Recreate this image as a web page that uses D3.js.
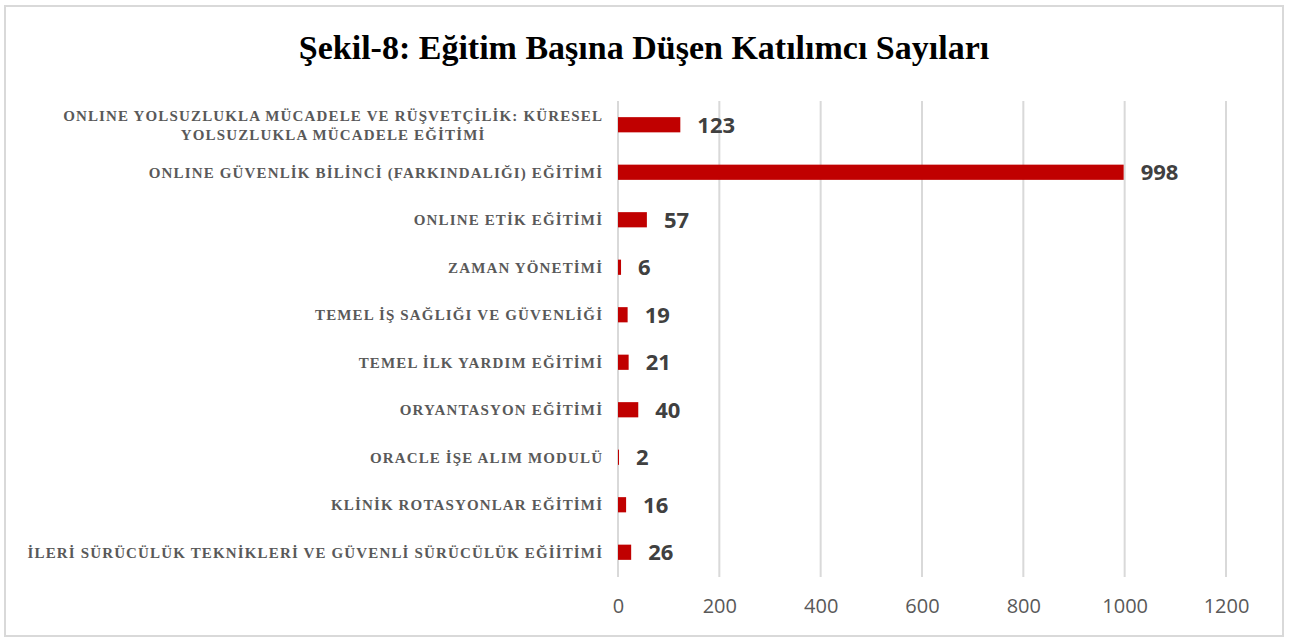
<!DOCTYPE html>
<html>
<head>
<meta charset="utf-8">
<script src="https://cdn.jsdelivr.net/npm/d3@7"></script>
<style>
  body { margin: 0; background: #fff; }
  svg { display: block; }
</style>
</head>
<body>
<svg id="svg" width="1290" height="642"></svg>
<script>
// DATA //
const categories = [
  "ONLINE YOLSUZLUKLA MÜCADELE VE RÜŞVETÇİLİK: KÜRESEL|YOLSUZLUKLA MÜCADELE EĞİTİMİ",
  "ONLINE GÜVENLİK BİLİNCİ (FARKINDALIĞI) EĞİTİMİ",
  "ONLINE ETİK EĞİTİMİ",
  "ZAMAN YÖNETİMİ",
  "TEMEL İŞ SAĞLIĞI VE GÜVENLİĞİ",
  "TEMEL İLK YARDIM EĞİTİMİ",
  "ORYANTASYON EĞİTİMİ",
  "ORACLE İŞE ALIM MODULÜ",
  "KLİNİK ROTASYONLAR EĞİTİMİ",
  "İLERİ SÜRÜCÜLÜK TEKNİKLERİ VE GÜVENLİ SÜRÜCÜLÜK EĞİİTİMİ"
];
const values = [123, 998, 57, 6, 19, 21, 40, 2, 16, 26];
const xTicks = [0, 200, 400, 600, 800, 1000, 1200];
const title = "Şekil-8: Eğitim Başına Düşen Katılımcı Sayıları";

// MAIN //
const svg = d3.select("#svg");

// Chart border
svg.append("rect")
  .attr("x", 5).attr("y", 6)
  .attr("width", 1278).attr("height", 630)
  .attr("fill", "#fff")
  .attr("stroke", "#d9d9d9")
  .attr("stroke-width", 2);

// Title
svg.append("text")
  .attr("x", 644).attr("y", 59)
  .attr("text-anchor", "middle")
  .style("font-family", "'Liberation Serif', 'Times New Roman', serif")
  .style("font-weight", "bold")
  .style("font-size", "34px")
  .attr("fill", "#000")
  .text(title);

// Scales
let x = d3.scaleLinear().domain([0, 1200]).range([618, 1226]);
let y = d3.scaleBand()
  .domain(d3.range(categories.length))
  .range([101, 576])
  .paddingInner(0.68)
  .paddingOuter(0.34);

// Gridlines
svg.append("g")
  .selectAll("line")
  .data(xTicks)
  .enter()
  .append("line")
  .attr("x1", d => x(d)).attr("x2", d => x(d))
  .attr("y1", 101).attr("y2", 577)
  .attr("stroke", "#d9d9d9")
  .attr("stroke-width", 2);

// Axis tick labels
const axis = d3.axisBottom(x).tickValues(xTicks).tickFormat(d3.format("d")).tickSize(0).tickPadding(0);
const axisG = svg.append("g")
  .attr("transform", "translate(0,599)")
  .call(axis);
axisG.select(".domain").remove();
axisG.selectAll("text")
  .style("font-family", "'Open Sans', sans-serif")
  .style("font-size", "20px")
  .attr("fill", "#595959");

// Bars
svg.append("g")
  .selectAll("rect")
  .data(values)
  .enter()
  .append("rect")
  .attr("x", x(0))
  .attr("y", (d, i) => y(i))
  .attr("width", d => x(d) - x(0))
  .attr("height", y.bandwidth())
  .attr("fill", "#c00000");

// Value labels
svg.append("g")
  .selectAll("text")
  .data(values)
  .enter()
  .append("text")
  .attr("x", d => x(d) + 17)
  .attr("y", (d, i) => y(i) + y.bandwidth() / 2)
  .attr("dy", "0.36em")
  .style("font-family", "'Open Sans', sans-serif")
  .style("font-weight", "bold")
  .style("font-size", "22px")
  .attr("fill", "#404040")
  .text(d => d);

// Category labels
const ls = 1.15;
const labelG = svg.append("g")
  .style("font-family", "'Liberation Serif', 'Times New Roman', serif")
  .style("font-weight", "bold")
  .style("font-size", "15px")
  .style("letter-spacing", ls + "px")
  .attr("fill", "#595959");

categories.forEach((c, i) => {
  const lines = c.split("|");
  const cy = y(i) + y.bandwidth() / 2;
  if (lines.length === 1) {
    labelG.append("text")
      .attr("x", 602 + ls).attr("y", cy)
      .attr("dy", "0.35em")
      .attr("text-anchor", "end")
      .text(lines[0]);
  } else {
    const first = labelG.append("text")
      .attr("x", 602 + ls).attr("y", cy - 9.5)
      .attr("dy", "0.35em")
      .attr("text-anchor", "end")
      .text(lines[0]);
    const w = first.node().getComputedTextLength();
    labelG.append("text")
      .attr("x", 602 + ls - w / 2).attr("y", cy + 9.5)
      .attr("dy", "0.35em")
      .attr("text-anchor", "middle")
      .text(lines[1]);
  }
});
</script>
</body>
</html>
